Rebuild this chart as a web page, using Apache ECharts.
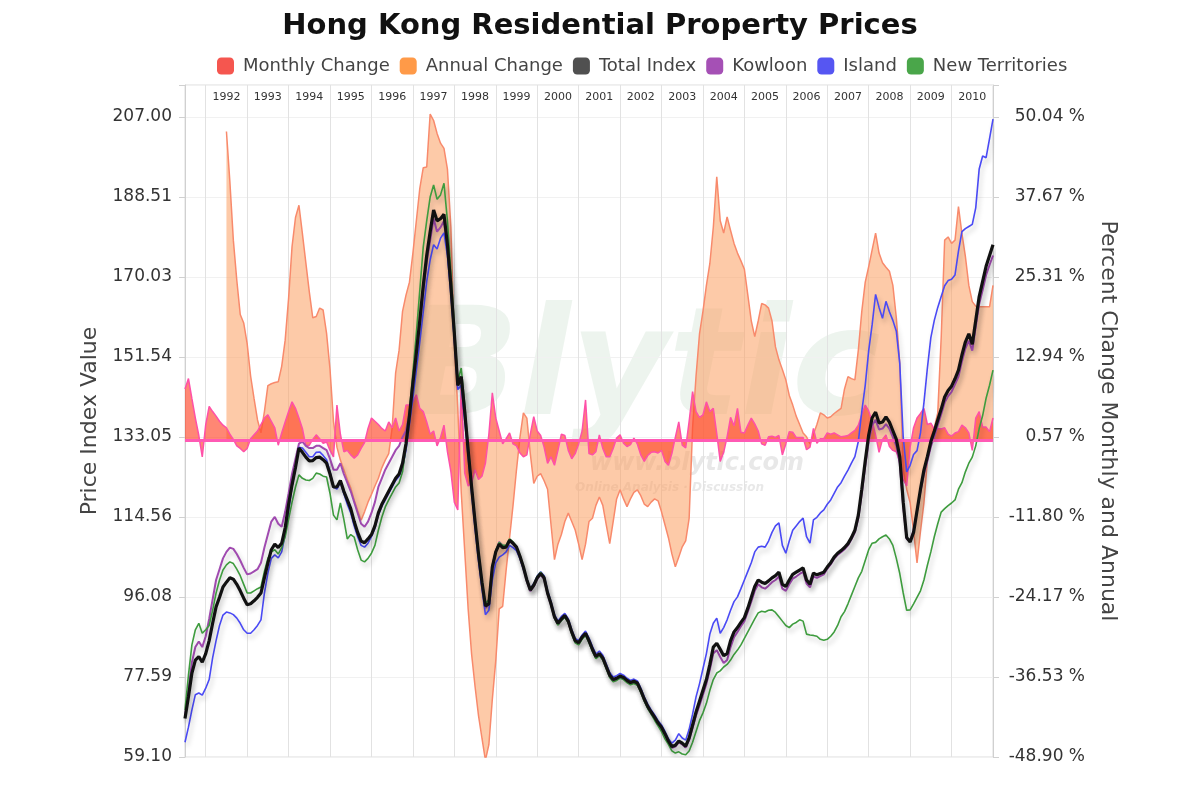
<!DOCTYPE html>
<html><head><meta charset="utf-8">
<script src="https://cdn.jsdelivr.net/npm/echarts@6/dist/echarts.min.js"></script>
<style>html,body{margin:0;padding:0;background:#fff}#c{width:1200px;height:800px}</style>
</head><body><div id="c"></div>
<script>
// ---- data (monthly, Jul 1991 .. Jan 2011) ----
const startYear = 1991, startMonth = 7, monthCount = 235;
const months = [];
for (let k = 0; k < monthCount; k++) {
  const m = startMonth - 1 + k;
  const y = startYear + Math.floor(m / 12);
  const mm = m % 12 + 1;
  months.push(y + '-' + (mm < 10 ? '0' : '') + mm);
}
const leftTicks = ['59.10','77.59','96.08','114.56','133.05','151.54','170.03','188.51','207.00'];
const rightTicks = ['-48.90','-36.53','-24.17','-11.80','0.57','12.94','25.31','37.67','50.04'];

const totalIndex = [
68,73,78.5,81.5,82.3,81,83,86,90,93.8,96,98.4,
99.5,100.5,100.2,99,97.5,95.8,94.3,94.5,95.2,96,97,100.5,
103.9,107,108.3,107.5,108.5,112,117.5,122,126,130.5,129.5,128.4,
127.5,127.6,128.3,128.4,127.8,127,124.5,121.5,121.5,123,120.5,118.5,
116.5,113.5,111,109,108.6,109.5,110.5,112.5,115.5,117.5,119,120.5,
122,123.5,124.5,127,131.5,138,145.5,152.5,160,168,175,180.5,
185.5,183,183.5,184.5,177.5,168,157,145,147,139,130,121.5,
113.5,106,99.5,94,94.5,103,106.5,108.3,107.5,107.6,109.2,108.5,
107.6,105.5,103,100,97.7,98.8,100.5,101.5,100.5,97,94.5,91.5,
90,91,91.8,90.5,88,86,85.5,86.8,87.7,86,84,82.3,
83,82,80,78,77,77.3,77.8,77.5,76.8,76.3,76.6,76.2,
74.5,72.5,70.8,69.5,68.3,67,66,64.5,62.8,61.5,61.8,62.8,
62.3,61.6,63.5,66.5,69.5,72,74.5,77,80.5,84.5,85.4,84,
82.5,83,86,88,89,90.2,91.3,93.5,96,98.5,100,99.5,
99.2,99.8,100.5,101,101.8,99,98.5,100,101.3,101.8,102.3,102.8,
100,99,101.6,101.2,101.5,101.8,103,104,105.3,106.2,106.8,107.5,
108.4,109.8,111.5,115,121,127.5,133.5,137.5,138.8,136.3,136.5,137.7,
136.5,134.5,132.5,128.5,118,109.8,108.8,111,116,121,125.4,128.5,
132,134.4,137,139.5,142.3,143.8,144.8,146.5,148.5,152,155,156.9,
154.5,160,165.5,169,172.5,175,177.5];

const kowloon = [
68.5,74.5,81,84.5,85.8,84.5,87,91,95.5,100,102.5,105,
106.5,107.5,107.2,106,104.5,102.8,101.3,101.5,102,102.5,104,107.5,
110.5,113.5,114.6,113,112.3,115.7,120,124.5,128,131.5,132,131,
130.5,130.5,131,131,130.5,130,128,125.5,125.5,127,124.5,122.5,
120.5,118,115.5,113,112.3,113.5,115.5,118,121.5,123.5,125.5,127,
128.5,130,131,133,134.5,138.5,145,152,159,167,173.5,178.5,
183.5,180.5,181.5,183,176.5,167.5,156.5,145,146.5,138.5,130,121.5,
113,105.5,99,93.5,94.5,102.5,106.5,108.8,108,107.8,109,108.3,
107.3,105.2,102.7,99.7,97.4,98.5,100.2,101.2,100.2,96.7,94.2,91.2,
89.7,90.7,91.5,90.2,87.7,85.7,85.2,86.5,87.4,85.7,83.7,82,
82.7,81.7,79.7,77.7,76.7,77,77.5,77.2,76.5,76,76.3,75.9,
74.2,72.2,70.5,69.2,68,66.7,65.7,64.2,62.5,61.2,61.5,62.5,
62,61.3,63,65.8,68.7,71,73.5,76,79.3,83,83.8,82.2,
80.8,81.5,84.5,86.8,88,89.3,90.5,92.7,95,97.5,99,98.3,
98,98.7,99.5,100,100.8,98,97.5,99,100.3,100.8,101.4,101.9,
99.2,98.3,100.8,100.5,100.9,101.3,102.6,103.6,104.9,105.8,106.4,107.1,
108,109.4,111,114.3,120,126.3,132,135.8,137,134.8,135,136,
135,133,131,127,117,109.5,109,111.5,116,120.5,124.5,127.5,
130.8,133.2,135.8,138.3,141,142.5,143.5,145.2,147,150.5,153.5,155.3,
153,158.5,163.8,167,170.5,172.8,175];

const island = [
62.5,66,70,73.5,73.9,73.4,75,77,82,86,89.5,91.9,
92.6,92.4,92,91.2,90,88.5,87.7,87.7,88.5,89.5,90.8,97,
101.6,105,105.8,105.1,106.5,110.5,116,121.5,126,130.7,130.5,129.5,
128.5,128.5,129.5,129.6,128.8,127.8,125,121.5,121,122.5,120,117.5,
115.5,112.5,110,108,107.6,108.5,110,112,115,117,118.5,120,
121.5,123,124,126,130,136,142,148.5,155,162,169,174,
177.5,176.5,179,180.2,175,166,155.5,144,145,137,128.5,120,
112,104.5,98,92,93,100,104,105.3,105.8,106.5,108,107.5,
106.8,105,102.5,100.3,98,99.2,100.9,101.9,101,97.6,95,92,
90.5,91.6,92.3,91,88.5,86.5,86,87.3,88.2,86.6,84.6,82.9,
83.6,82.6,80.6,78.6,77.6,77.9,78.4,78,77.3,76.8,77.1,76.7,
75,73,71.3,70,68.8,67.5,66.5,65,63.3,62.3,63,64.5,
63.5,63,65.5,69,73,76,79.5,83,87.5,90,91.2,87.7,
89,90.8,93,95,96.1,98,100,102,104,106.5,107.6,107.8,
107.6,109,111,112.5,113.2,108,106.2,109,111.5,112.5,113.5,114.3,
110,108.5,113.9,114.5,115.5,116.2,117.5,118.5,120,121.5,122.5,124,
125.4,127,128.5,132,139,145,153,159,166,163,160.5,164.4,
162,160,157.5,150,133,125,126.5,129,129.9,134,141,149,
156,160,163,165.5,168,169.2,169.5,170.5,176,180.5,181.2,181.7,
182.2,186,195,198,197.6,202,206.5];

const newTerritories = [
70,78,85,88.5,90,87.7,88.5,89.5,93,97,100,102.3,
103.5,104.2,103.8,102.5,101,99,97,97,97.5,98,98.4,102,
105,106.5,107,106,107.5,110,114,118,121.5,124.3,123.5,123.1,
123,123.5,124.7,124.5,124,123.8,120,115,113.9,117.8,114,109.5,
110.5,109.9,107,104.6,104.2,105,106.2,108,111.5,114.5,116.9,118.5,
120,121.5,122.4,125,131,139,148,157,167,177,183,188.5,
191.3,188,189,191.7,183,171,159,146,149,140.5,131,122,
114,106.5,100,94.5,95.5,103.5,106.8,108.7,108,108,109.5,108.8,
107.8,105.7,103.2,100.2,97.8,99,100.8,101.8,100.7,97.2,94.3,91.2,
89.6,90.6,91.4,90.1,87.5,85.5,85,86.3,87.2,85.5,83.5,81.8,
82.5,81.5,79.5,77.5,76.5,76.8,77.3,77,76.3,75.8,76.1,75.7,
74,72,70.3,69,67.6,66.3,65,63.3,62,60.5,60,60.3,
59.8,59.6,60.5,62.5,65,67.5,69.3,71.5,74.5,77,78.5,79,
79.9,80.5,81.5,82.8,83.8,85,86.5,88,89.5,91,92.4,92.8,
92.6,93,93.1,92.5,91.5,90.5,89.5,89,89.8,90.2,90.8,90.5,
87.5,87.3,87.2,87,86.3,86.1,86.3,87,88,89.5,91.5,92.7,
94.5,96.5,98.5,100.5,102,104.5,107,108.5,108.7,109.5,110,110.4,
109.5,108,105,101.5,97,93,93.1,94.5,96,97.5,100,103.4,
106.5,110,113,115.7,116.5,117.2,117.8,118.5,121,122.5,125,127,
128.4,131,135,138,142,145,148.5];

const annualChange = [
null,null,null,null,null,null,null,null,null,null,null,null,
47.8,40,31,24.8,19.5,18.2,15,10,6.5,3.2,1.2,4.5,
8.5,8.8,9,9.1,11.5,15.5,22,30,34.5,36.4,32,27.5,
23,19,19.2,20.5,20.2,16.6,11,3,-1,-3,-4.5,-6,
-7.3,-9.2,-10.8,-12.3,-11,-9.5,-8.3,-7,-5.8,-4.2,-3,-2,
2,10.5,14,20,22.5,24.5,29,34,39,42.2,42.3,50.5,
49.5,47.5,46,45.2,42,33,15,5,-8,-17,-26,-33,
-38,-42.5,-46,-49.4,-47,-40,-34,-26,-25.6,-20,-15,-10,
-4.5,0.5,4.3,3.5,-2,-6.6,-5.5,-5.1,-6.2,-7.5,-13,-18.4,
-16,-14.5,-12.5,-11.2,-12.5,-13.8,-16,-18.4,-16,-12.5,-12,-10,
-8.7,-10,-13,-15.9,-12.5,-9,-7.6,-9,-10.2,-9,-8,-7.6,
-8.5,-9.8,-10.2,-9.5,-9,-9.3,-11,-13,-15,-17.5,-19.5,-18,
-16.4,-15.5,-12,2,10,16.5,20,24,27.4,33,40.8,34,
32.1,34.6,32.5,30.5,29,27.8,26.5,22.5,18.5,16.1,18.5,21.2,
21,20.5,18.5,14.5,12.5,11,9.4,7,5.5,3.8,2.5,1.2,
0.6,-0.5,1,2.5,4.3,4,3.5,3.7,4.2,4.6,5,8,
9.9,9.6,9.4,14,20,24.5,26.9,29.5,32.1,29,27.5,26.8,
26.2,24,19,12,-4.5,-7.5,-9.6,-14,-18.9,-14,-9.6,-3,
0.5,2,4.3,16,31,31.5,30.5,31,36.2,32,28.5,24,
21.5,20.8,20.7,20.7,20.7,20.7,24];

const monthlyChange = [
8,9.6,6.5,3.5,0.8,-2.5,2.5,5.3,4.5,3.8,3,2.4,
2,1,0.2,-0.8,-1.2,-1.7,-1.2,0.3,0.9,1.5,2.5,3.5,
4,3,2,-0.7,1.2,2.9,4.5,6,5,3.5,1.9,-0.8,
-0.7,0.2,0.9,0.3,-0.4,-0.2,-1.5,-2.5,5.5,1,-1.7,-1.5,
-2.2,-2.7,-2.2,-1.2,-0.3,1.9,3.5,3,2.5,1.9,1.5,2.9,
2,3.5,1.5,2.5,5.5,5.5,6,7.1,5,4.5,2.9,1,
1.5,-0.8,0.5,2.4,-1.7,-4.8,-9.5,-10.7,9,-5,-7,-6.5,
-4.5,-6,-5.5,-3.5,1,7.4,3.5,1.5,-0.5,0.3,1.2,-0.5,
-0.8,-1.9,-2.5,-2.2,1,3.7,1.5,0.8,-1,-3.5,-2.5,-3.8,
-1.5,1,0.8,-1.5,-2.8,-2,-0.5,1.5,6.3,-2,-2.2,-1.7,
0.9,-1.2,-2.5,-2.5,-1.2,0.4,0.9,-0.4,-0.9,-0.6,0.4,-0.5,
-2.2,-3.2,-2.3,-1.8,-1.7,-1.9,-1.5,-3.2,-3.8,-2,0.5,2.9,
-0.7,-1.1,3,7.6,4.5,3.6,4,6,4.5,5,1.1,-3.2,
-1.8,0.6,3.6,2.3,5,1.3,1.2,2.4,3.5,2.6,1.5,-0.5,
-0.7,0.6,0.7,0.5,0.8,-2.2,-0.5,1.4,1.3,0.5,0.5,0.5,
-1.4,-1,1.9,-0.4,0.3,0.3,1.2,1,1.2,0.9,0.6,0.7,
0.8,1.2,1.6,2.4,4,5.5,4.6,3,0.9,-1.8,0.2,0.9,
-0.9,-1.5,-1.7,-3.2,-6,-7,-1,2,3.5,4.2,5,2.5,
2.7,1.8,1.9,1.8,2,1,0.7,1.2,1.4,2.4,2,1.2,
-1.5,3.5,4.5,2.1,2.1,1.4,3.5];

// ---- chart ----
const FONT = 'DejaVu Sans';
const LMIN = 59.1, LINT = 18.4875, LMAX = 207 + 32 * (147.9 / 640);
const RMIN = -48.9, RINT = 12.3675, RMAX = 50.04 + 32 * (98.94 / 640);
function tickFmt(arr, min, step, suffix) {
  return function (v) {
    const k = Math.round((v - min) / step);
    if (k < 0 || k >= arr.length || Math.abs(v - (min + k * step)) > 0.01) return '';
    return arr[k] + suffix;
  };
}
const shadow = { shadowColor: 'rgba(0,0,0,0.22)', shadowBlur: 5, shadowOffsetX: 2, shadowOffsetY: 4 };
const chart = echarts.init(document.getElementById('c'));
chart.setOption({
  animation: false,
  backgroundColor: '#fff',
  textStyle: { fontFamily: FONT },
  title: { text: 'Hong Kong Residential Property Prices', left: 'center', top: 7,
    textStyle: { fontFamily: FONT, fontSize: 29, fontWeight: 'bold', color: '#111' } },
  legend: {
    top: 52, left: 212, itemWidth: 17, itemHeight: 17, itemGap: 10, icon: 'roundRect',
    textStyle: { fontFamily: FONT, fontSize: 18, color: '#444', padding: [0, 0, 0, 4] },
    data: [
      { name: 'Monthly Change', itemStyle: { color: '#f5564f' } },
      { name: 'Annual Change', itemStyle: { color: '#ff9a48' } },
      { name: 'Total Index', itemStyle: { color: '#505050' } },
      { name: 'Kowloon', itemStyle: { color: '#a550b5' } },
      { name: 'Island', itemStyle: { color: '#5656f2' } },
      { name: 'New Territories', itemStyle: { color: '#4aa64a' } }
    ]
  },
  graphic: [
    { type: 'text', left: 405, top: 300, z: 0, silent: true,
      style: { text: 'Blytic', font: 'italic bold 150px DejaVu Sans', fill: 'rgba(190,215,195,0.28)' } },
    { type: 'text', left: 590, top: 452, z: 0, silent: true,
      style: { text: 'www.blytic.com', font: 'italic bold 24px DejaVu Sans', fill: 'rgba(190,190,190,0.35)' } },
    { type: 'text', left: 575, top: 482, z: 0, silent: true,
      style: { text: 'Online Analysis · Discussion', font: 'italic bold 12px DejaVu Sans', fill: 'rgba(190,190,190,0.35)' } }
  ],
  grid: { left: 185, right: 207, top: 85, bottom: 43, show: true, borderColor: '#dcdcdc', borderWidth: 1 },
  xAxis: {
    type: 'category', data: months, boundaryGap: false, position: 'top',
    axisLine: { show: false }, axisTick: { show: false },
    axisLabel: { inside: true, margin: 7, fontSize: 11, color: '#333', fontFamily: FONT,
      interval: (i, v) => v.slice(5) === '07' && +v.slice(0, 4) >= 1992,
      formatter: v => v.slice(0, 4) },
    splitLine: { show: true, interval: (i, v) => v.slice(5) === '01', lineStyle: { color: '#e2e2e2', width: 1 } }
  },
  yAxis: [
    { type: 'value', min: LMIN, max: LMAX, interval: LINT, position: 'left',
      name: 'Price Index Value', nameLocation: 'middle', nameGap: 80, nameRotate: 90,
      nameTextStyle: { fontFamily: FONT, fontSize: 22, color: '#444' },
      axisLine: { show: true, lineStyle: { color: '#d0d0d0' } },
      axisTick: { show: true, length: 6, lineStyle: { color: '#d0d0d0' } },
      axisLabel: { fontSize: 17, color: '#333', margin: 13, fontFamily: FONT, formatter: tickFmt(leftTicks, LMIN, LINT, '') },
      splitLine: { show: true, lineStyle: { color: '#f1f1f1' } } },
    { type: 'value', min: RMIN, max: RMAX, interval: RINT, position: 'right',
      name: 'Percent Change Monthly and Annual', nameLocation: 'middle', nameGap: 104, nameRotate: -90,
      nameTextStyle: { fontFamily: FONT, fontSize: 22, color: '#444' },
      axisLine: { show: true, lineStyle: { color: '#d0d0d0' } },
      axisTick: { show: true, length: 6, lineStyle: { color: '#d0d0d0' } },
      axisLabel: { fontSize: 17, color: '#333', margin: 92, align: 'right', fontFamily: FONT, formatter: tickFmt(rightTicks, RMIN, RINT, ' %') },
      splitLine: { show: false } }
  ],
  series: [
    { name: 'Annual Change', type: 'line', yAxisIndex: 1, data: annualChange, symbol: 'none', connectNulls: false,
      lineStyle: { color: '#f88a6c', width: 1.5 }, itemStyle: { color: '#ff9a48' },
      areaStyle: { color: 'rgba(252,160,100,0.8)' }, z: 2 },
    { name: 'Monthly Change', type: 'line', yAxisIndex: 1, data: monthlyChange, symbol: 'none',
      lineStyle: { color: '#ff50a8', width: 1.5 }, itemStyle: { color: '#f5564f' },
      areaStyle: { color: 'rgba(255,70,40,0.92)' }, z: 3,
      markLine: { silent: true, symbol: 'none', label: { show: false },
        lineStyle: { color: '#ff5ab4', width: 3, type: 'solid' }, data: [{ yAxis: 0 }] } },
    { name: 'Kowloon', type: 'line', data: kowloon, symbol: 'none', z: 4,
      lineStyle: Object.assign({ color: '#a04ab0', width: 2 }, shadow), itemStyle: { color: '#a550b5' } },
    { name: 'Island', type: 'line', data: island, symbol: 'none', z: 4,
      lineStyle: Object.assign({ color: '#4a4af5', width: 1.6 }, shadow), itemStyle: { color: '#5656f2' } },
    { name: 'New Territories', type: 'line', data: newTerritories, symbol: 'none', z: 4,
      lineStyle: Object.assign({ color: '#3e9c3e', width: 1.6 }, shadow), itemStyle: { color: '#4aa64a' } },
    { name: 'Total Index', type: 'line', data: totalIndex, symbol: 'none', z: 5,
      lineStyle: Object.assign({ color: '#111', width: 3.2 }, shadow), itemStyle: { color: '#505050' } }
  ]
});
</script>
</body></html>
